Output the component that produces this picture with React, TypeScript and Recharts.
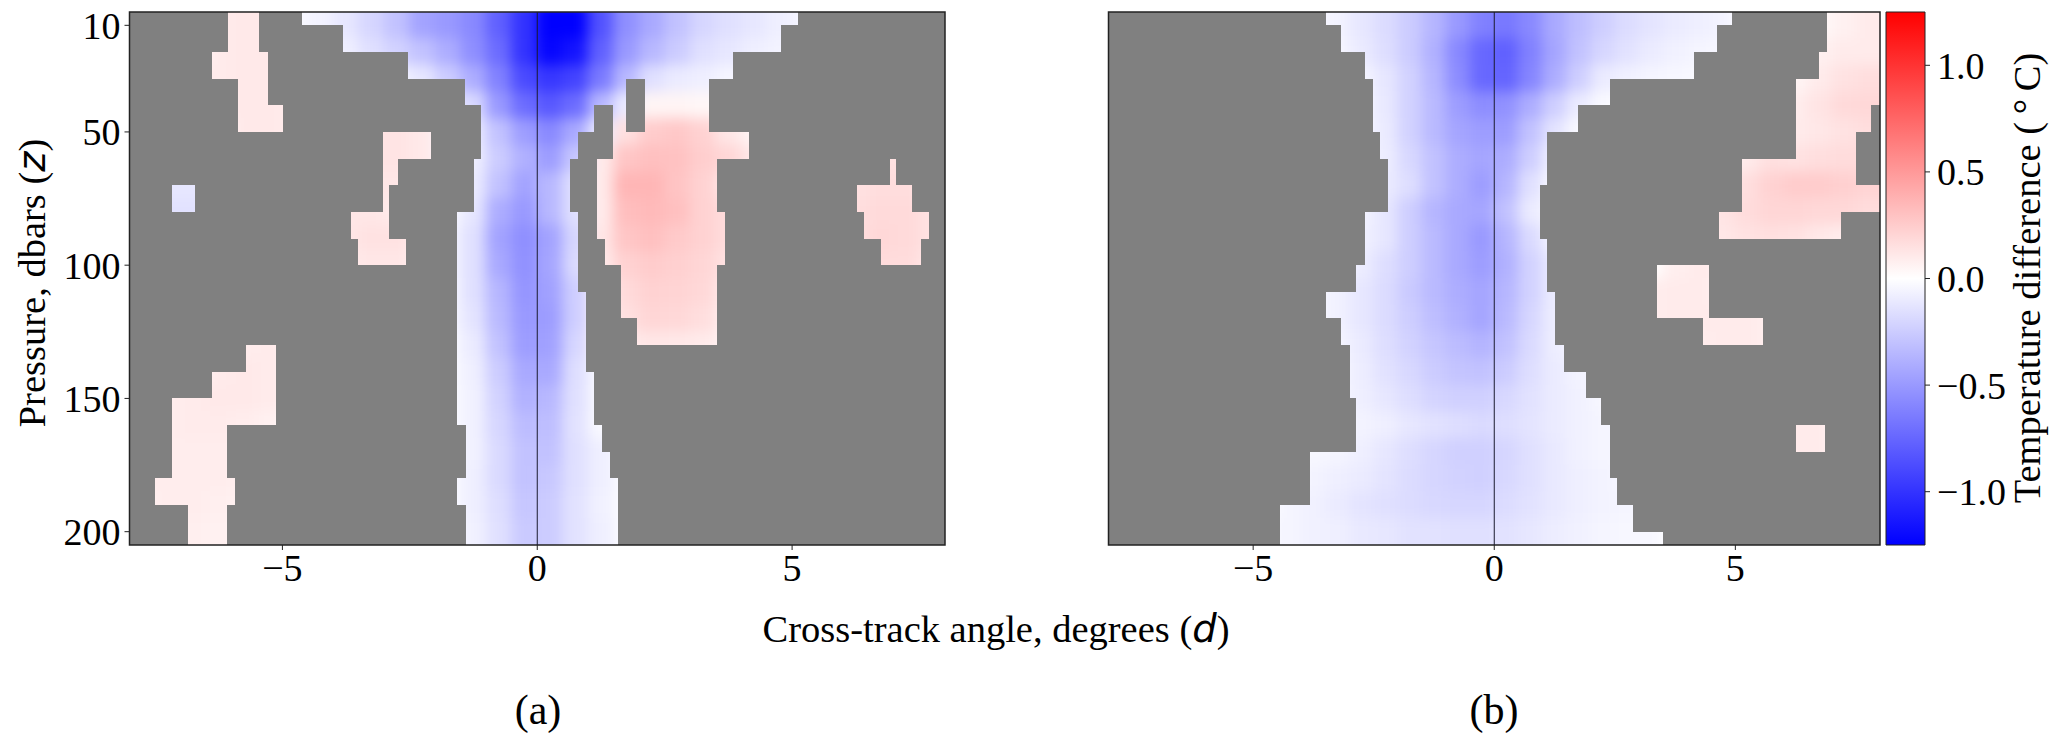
import React from 'react';
import { ScatterChart, Scatter, XAxis, YAxis, ReferenceArea, ReferenceLine } from 'recharts';

const W = 2067;
const H = 744;
const SERIF = '"Liberation Serif", serif';

// field grid: cell centres, values in 0.01 degC
const angles = [-7.75, -7.25, -6.75, -6.25, -5.75, -5.25, -4.75, -4.25, -3.75, -3.25, -2.75, -2.25, -1.75, -1.25, -0.75, -0.25, 0.25, 0.75, 1.25, 1.75, 2.25, 2.75, 3.25, 3.75, 4.25, 4.75, 5.25, 5.75, 6.25, 6.75, 7.25, 7.75];
const pressures = [10, 20, 30, 40, 50, 60, 70, 80, 90, 100, 110, 120, 130, 140, 150, 160, 170, 180, 190, 200];

const fieldA = [
  [0, 0, 0, 10, 11, 11, -3, -6, -12, -20, -30, -45, -50, -58, -78, -100, -125, -125, -85, -55, -42, -30, -20, -15, -12, -8, -5, 0, 0, 0, 0, 0],
  [0, 0, 0, 10, 11, 11, 0, -3, -8, -15, -22, -30, -40, -55, -72, -100, -122, -115, -78, -50, -35, -25, -15, -12, -8, -6, -4, 0, 0, 0, 0, 0],
  [0, 0, 9, 10, 11, 11, 0, 0, 0, -2, -5, -12, -25, -40, -62, -88, -98, -92, -65, -35, -15, -10, -8, -5, -3, 0, 0, 0, 0, 0, 0, 0],
  [0, 0, 0, 9, 11, 11, 9, 0, 0, 0, 0, -4, -10, -18, -50, -72, -82, -72, -35, -10, 5, 5, 4, 2, 0, 0, 0, 0, 0, 0, 0, 0],
  [0, 0, 0, 0, 11, 11, 9, 0, 11, 13, 13, 11, -3, -10, -30, -48, -58, -42, -10, 15, 25, 27, 22, 12, 5, 0, 0, 0, 0, 0, 0, 0],
  [0, 0, 0, 0, 0, 0, 0, 0, 10, 13, 13, 11, -3, -8, -25, -38, -48, -28, 10, 28, 31, 30, 24, 20, 12, 0, 0, 0, 12, 14, 14, 0],
  [-8, -12, -12, -8, 0, 0, 0, 0, 10, 12, 12, 8, -3, -10, -30, -45, -35, -15, 10, 36, 36, 29, 22, 12, 5, 0, 0, 10, 14, 16, 16, 12],
  [-8, -14, -14, -8, 0, 0, 0, 12, 12, 12, 10, 7, -3, -12, -40, -50, -35, -15, 10, 32, 34, 31, 22, 17, 10, 0, 0, 12, 16, 18, 18, 14],
  [0, 0, 0, 0, 0, 0, 0, 10, 12, 14, 14, 8, -4, -15, -45, -55, -45, -20, 12, 28, 31, 26, 22, 17, 10, 0, 0, 10, 16, 19, 18, 14],
  [0, 0, 0, 0, 0, 0, 0, 0, 10, 12, 12, 7, -4, -15, -42, -54, -44, -18, 10, 22, 25, 23, 20, 14, 6, 0, 0, 10, 15, 17, 17, 12],
  [0, 0, 0, 0, 0, 0, 0, 0, 0, 0, 0, 0, -3, -15, -36, -52, -46, -24, 5, 18, 22, 21, 19, 10, 0, 0, 0, 0, 0, 0, 0, 0],
  [0, 0, 0, 0, 0, 0, 0, 0, 0, 0, 0, 0, -3, -13, -34, -50, -48, -24, 5, 15, 20, 19, 16, 8, 0, 0, 0, 0, 0, 0, 0, 0],
  [0, 0, 0, 0, 9, 10, 7, 0, 0, 0, 0, 0, -2, -10, -30, -48, -46, -20, 5, 10, 12, 11, 10, 6, 0, 0, 0, 0, 0, 0, 0, 0],
  [0, 0, 0, 10, 11, 10, 7, 0, 0, 0, 0, 0, -2, -8, -25, -42, -42, -16, -3, 0, 0, 0, 0, 0, 0, 0, 0, 0, 0, 0, 0, 0],
  [0, 9, 10, 11, 11, 10, 7, 0, 0, 0, 0, 0, -2, -7, -22, -38, -35, -15, -3, 0, 0, 0, 0, 0, 0, 0, 0, 0, 0, 0, 0, 0],
  [0, 9, 10, 10, 9, 7, 0, 0, 0, 0, 0, 0, -2, -7, -20, -33, -32, -14, -3, 0, 0, 0, 0, 0, 0, 0, 0, 0, 0, 0, 0, 0],
  [0, 9, 9, 9, 8, 0, 0, 0, 0, 0, 0, 0, -2, -7, -18, -30, -30, -15, -8, -2, 0, 0, 0, 0, 0, 0, 0, 0, 0, 0, 0, 0],
  [9, 9, 9, 9, 8, 0, 0, 0, 0, 0, 0, 0, -2, -8, -18, -30, -27, -15, -8, -2, 0, 0, 0, 0, 0, 0, 0, 0, 0, 0, 0, 0],
  [7, 9, 9, 8, 7, 0, 0, 0, 0, 0, 0, 0, -2, -8, -16, -28, -25, -14, -7, -2, 0, 0, 0, 0, 0, 0, 0, 0, 0, 0, 0, 0],
  [0, 7, 8, 7, 6, 0, 0, 0, 0, 0, 0, 0, -2, -7, -15, -26, -25, -14, -8, -2, 0, 0, 0, 0, 0, 0, 0, 0, 0, 0, 0, 0],
];

const fieldB = [
  [0, 0, 0, 0, 0, 0, 0, 0, -3, -6, -12, -17, -25, -36, -50, -62, -66, -58, -42, -32, -24, -17, -13, -10, -8, -6, 0, 0, 0, 3, 7, 10],
  [0, 0, 0, 0, 0, 0, 0, 0, 0, -4, -10, -16, -25, -38, -58, -74, -78, -62, -44, -30, -20, -14, -10, -7, -5, -4, 0, 0, 0, 7, 10, 10],
  [0, 0, 0, 0, 0, 0, 0, 0, 0, 0, -5, -12, -22, -36, -56, -74, -76, -60, -40, -24, -10, -7, -5, -4, -3, 0, 0, 0, 5, 10, 14, 16],
  [0, 0, 0, 0, 0, 0, 0, 0, 0, 0, -4, -11, -22, -34, -48, -56, -54, -40, -24, -10, -3, 0, 0, 0, 0, 0, 0, 4, 9, 13, 18, 19],
  [0, 0, 0, 0, 0, 0, 0, 0, 0, 0, -4, -10, -22, -34, -44, -48, -48, -30, -13, -3, 0, 0, 0, 0, 0, 0, 0, 6, 10, 12, 14, 16],
  [0, 0, 0, 0, 0, 0, 0, 0, 0, 0, -4, -9, -19, -30, -40, -44, -40, -24, -7, 0, 0, 0, 0, 0, 0, 0, 10, 15, 14, 16, 17, 17],
  [0, 0, 0, 0, 0, 0, 0, 0, 0, 0, -4, -10, -16, -30, -40, -48, -36, -15, -3, 0, 0, 0, 0, 0, 0, 11, 16, 22, 25, 25, 23, 21],
  [0, 0, 0, 0, 0, 0, 0, 0, 0, 0, -6, -12, -24, -36, -42, -44, -30, -10, -3, 0, 0, 0, 0, 0, 9, 13, 17, 20, 20, 19, 19, 17],
  [0, 0, 0, 0, 0, 0, 0, 0, 0, 0, -7, -12, -24, -34, -42, -50, -36, -18, -5, 0, 0, 0, 0, 0, 10, 12, 14, 15, 14, 11, 9, 0],
  [0, 0, 0, 0, 0, 0, 0, 0, 0, -3, -9, -16, -24, -34, -42, -48, -38, -22, -10, 0, 0, 0, 0, 8, 10, 9, 0, 0, 0, 0, 0, 0],
  [0, 0, 0, 0, 0, 0, 0, 0, -3, -7, -12, -17, -26, -34, -40, -44, -36, -22, -10, 0, 0, 0, 9, 10, 10, 7, 0, 0, 0, 0, 0, 0],
  [0, 0, 0, 0, 0, 0, 0, 0, -3, -7, -12, -17, -24, -32, -38, -44, -34, -20, -9, 0, 0, 0, 9, 10, 10, 10, 10, 8, 0, 0, 0, 0],
  [0, 0, 0, 0, 0, 0, 0, 0, 0, -5, -10, -16, -22, -28, -33, -37, -30, -18, -9, -3, 0, 0, 0, 0, 9, 10, 10, 8, 0, 0, 0, 0],
  [0, 0, 0, 0, 0, 0, 0, 0, 0, -4, -9, -14, -19, -25, -29, -30, -25, -16, -10, -6, -3, 0, 0, 0, 0, 0, 0, 0, 0, 0, 0, 0],
  [0, 0, 0, 0, 0, 0, 0, 0, 0, -4, -8, -12, -16, -21, -23, -23, -19, -14, -10, -7, -4, 0, 0, 0, 0, 0, 0, 0, 0, 0, 0, 0],
  [0, 0, 0, 0, 0, 0, 0, 0, 0, -4, -6, -8, -12, -14, -16, -18, -16, -13, -10, -7, -5, -4, 0, 0, 0, 0, 0, 0, 10, 10, 0, 0],
  [0, 0, 0, 0, 0, 0, 0, 0, -4, -5, -8, -12, -16, -20, -23, -23, -20, -15, -11, -7, -5, -4, 0, 0, 0, 0, 0, 0, 10, 10, 0, 0],
  [0, 0, 0, 0, 0, 0, 0, 0, -6, -8, -10, -13, -17, -20, -22, -23, -19, -15, -11, -8, -6, -4, 0, 0, 0, 0, 0, 0, 0, 0, 0, 0],
  [0, 0, 0, 0, 0, 0, 0, -5, -7, -10, -13, -15, -17, -19, -20, -20, -17, -14, -11, -8, -6, -5, -3, 0, 0, 0, 0, 0, 0, 0, 0, 0],
  [0, 0, 0, 0, 0, 0, -4, -5, -7, -8, -11, -12, -14, -14, -15, -15, -14, -12, -9, -7, -5, -4, -4, 0, 0, 0, 0, 0, 0, 0, 0, 0],
];

// rows of the no-data mask, and for each row the x intervals that do hold data
const maskEdges = [5, 10, 20, 30, 40, 50, 60, 70, 80, 90, 100, 110, 120, 130, 140, 150, 160, 170, 180, 190, 200, 205];

const openA = [
  [[-6.06, -5.45], [-4.61, 5.11]],
  [[-6.06, -5.45], [-3.82, 4.79]],
  [[-6.38, -5.29], [-2.53, 3.84]],
  [[-5.88, -5.29], [-1.41, 1.75], [2.11, 3.36]],
  [[-5.88, -4.98], [-1.1, 1.12], [1.48, 1.75], [2.11, 3.36]],
  [[-3.02, -2.08], [-1.1, 0.795], [1.48, 4.16]],
  [[-3.02, -2.74], [-1.25, 0.634], [1.166, 3.525], [6.93, 7.04]],
  [[-7.17, -6.71], [-3.02, -2.9], [-1.25, 0.634], [1.166, 3.525], [6.27, 7.36]],
  [[-3.66, -2.9], [-1.57, 0.795], [1.166, 3.69], [6.42, 7.68]],
  [[-3.51, -2.57], [-1.57, 0.795], [1.32, 3.69], [6.75, 7.52]],
  [[-1.57, 0.795], [1.635, 3.525]],
  [[-1.57, 0.955], [1.635, 3.525]],
  [[-1.57, 0.955], [1.95, 3.525]],
  [[-5.72, -5.13], [-1.57, 0.955]],
  [[-6.38, -5.13], [-1.57, 1.11]],
  [[-7.17, -5.13], [-1.57, 1.11]],
  [[-7.17, -6.08], [-1.405, 1.27]],
  [[-7.17, -6.08], [-1.405, 1.43]],
  [[-7.5, -5.93], [-1.57, 1.586]],
  [[-6.85, -6.08], [-1.405, 1.586]],
  [[-6.85, -6.08], [-1.405, 1.586]],
];

const openB = [
  [[-3.48, 4.93], [6.9, 8]],
  [[-3.17, 4.62], [6.9, 8]],
  [[-2.69, 4.15], [6.73, 8]],
  [[-2.52, 2.4], [6.26, 8]],
  [[-2.52, 1.74], [6.26, 7.81]],
  [[-2.37, 1.1], [6.26, 7.5]],
  [[-2.21, 1.1], [5.14, 7.5]],
  [[-2.21, 0.95], [5.14, 8]],
  [[-2.69, 0.95], [4.67, 7.19]],
  [[-2.69, 1.1]],
  [[-2.86, 1.1], [3.375, 4.45]],
  [[-3.48, 1.26], [3.375, 4.45]],
  [[-3.17, 1.26], [4.33, 5.58]],
  [[-3.0, 1.44]],
  [[-3.0, 1.91]],
  [[-2.86, 2.22]],
  [[-2.86, 2.4], [6.25, 6.86]],
  [[-3.82, 2.4]],
  [[-3.82, 2.54]],
  [[-4.45, 2.88]],
  [[-4.45, 3.5]],
];

const xTicks = [-5, 0, 5];
const yTicks = [10, 50, 100, 150, 200];
const colorTicks = [-1, -0.5, 0, 0.5, 1];

const PLOT_TOP = 12;
const PLOT_BOTTOM = 545;
const PANEL_A = { left: 129.5, right: 945 };
const PANEL_B = { left: 1108.5, right: 1880 };

const toColor = (v: number) => {
  const t = Math.min(Math.abs(v) / 1.25, 1);
  const c = Math.round(255 * (1 - t));
  return v < 0 ? `rgb(${c},${c},255)` : `rgb(255,${c},${c})`;
};

const minusFmt = (v: number | string) => String(v).replace('-', '\u2212');

const margins = (p: { left: number; right: number }) => ({
  left: p.left - 70,
  right: W - p.right,
  top: PLOT_TOP,
  bottom: H - PLOT_BOTTOM - 60,
});

// blurred cells stand in for the smooth interpolation of the original image
const Field = ({ panel, values }: { panel: { left: number; right: number }; values: number[][] }) => {
  const cw = (panel.right - panel.left) / 32;
  const ch = (PLOT_BOTTOM - PLOT_TOP) / 20;
  const cells = pressures.flatMap((pressure, i) =>
    angles.map((angle, j) => ({ angle, pressure, value: values[i][j] / 100, row: i, col: j }))
  );
  const Cell = (props: any) => {
    const { cx, cy, payload } = props;
    const padT = payload.row === 0 ? 30 : 0;
    const padB = payload.row === 19 ? 30 : 0;
    const padL = payload.col === 0 ? 30 : 0;
    const padR = payload.col === 31 ? 30 : 0;
    return (
      <rect
        x={cx - cw / 2 - padL - 0.5}
        y={cy - ch / 2 - padT - 0.5}
        width={cw + padL + padR + 1}
        height={ch + padT + padB + 1}
        fill={toColor(payload.value)}
      />
    );
  };
  return (
    <div
      style={{
        position: 'absolute',
        left: 0,
        top: 0,
        width: W,
        height: H,
        clipPath: `inset(${PLOT_TOP}px ${W - panel.right}px ${H - PLOT_BOTTOM}px ${panel.left}px)`,
      }}
    >
      <div style={{ filter: 'blur(7px)' }}>
        <ScatterChart width={W} height={H} margin={margins(panel)}>
          <XAxis type="number" dataKey="angle" domain={[-8, 8]} height={60} tick={false} axisLine={false} tickLine={false} />
          <YAxis type="number" dataKey="pressure" domain={[5, 205]} reversed width={70} tick={false} axisLine={false} tickLine={false} />
          <Scatter data={cells} shape={Cell} isAnimationActive={false} />
        </ScatterChart>
      </div>
    </div>
  );
};

const Overlay = ({ panel, open, showY }: { panel: { left: number; right: number }; open: number[][][]; showY: boolean }) => {
  const gray: { x1: number; x2: number; y1: number; y2: number }[] = [];
  open.forEach((segs, i) => {
    let from = -8;
    [...segs, [8, 8]].forEach(([a, b]) => {
      if (a > from) gray.push({ x1: from, x2: a, y1: maskEdges[i], y2: maskEdges[i + 1] });
      from = b;
    });
  });
  const tickStyle = { fontFamily: SERIF, fontSize: 38, fill: '#000' };
  return (
    <div style={{ position: 'absolute', left: 0, top: 0 }}>
      <ScatterChart width={W} height={H} margin={margins(panel)}>
        <XAxis
          type="number"
          dataKey="angle"
          domain={[-8, 8]}
          ticks={xTicks}
          height={60}
          tick={tickStyle}
          tickFormatter={minusFmt}
          tickSize={5}
          tickMargin={4}
          stroke="#222"
          axisLine={false}
          allowDataOverflow
        />
        <YAxis
          type="number"
          dataKey="pressure"
          domain={[5, 205]}
          reversed
          ticks={showY ? yTicks : []}
          width={70}
          tick={showY ? tickStyle : false}
          tickLine={showY}
          tickSize={5}
          tickMargin={4}
          stroke="#222"
          axisLine={false}
          interval={0}
          allowDataOverflow
        />
        {gray.map((g, i) => (
          <ReferenceArea key={i} x1={g.x1} x2={g.x2} y1={g.y1} y2={g.y2} fill="#808080" fillOpacity={1} stroke="none" shapeRendering="crispEdges" />
        ))}
        <ReferenceLine x={0} stroke="#1a1a2e" strokeWidth={1} />
        <ReferenceArea x1={-8} x2={8} y1={5} y2={205} fill="none" stroke="#222" strokeWidth={1.5} />
      </ScatterChart>
    </div>
  );
};

const ColorBar = () => (
  <div style={{ position: 'absolute', left: 0, top: 0 }}>
    <ScatterChart width={W} height={H} margin={{ left: 1886, right: W - 1925 - 90, top: PLOT_TOP, bottom: H - PLOT_BOTTOM }}>
      <defs>
        <linearGradient id="bwr" x1="0" y1="0" x2="0" y2="1">
          <stop offset="0%" stopColor="#ff0000" />
          <stop offset="50%" stopColor="#ffffff" />
          <stop offset="100%" stopColor="#0000ff" />
        </linearGradient>
      </defs>
      <XAxis type="number" dataKey="x" domain={[0, 1]} height={0} tick={false} axisLine={false} tickLine={false} allowDataOverflow />
      <YAxis
        type="number"
        dataKey="y"
        domain={[-1.25, 1.25]}
        orientation="right"
        ticks={colorTicks}
        width={90}
        interval={0}
        tick={{ fontFamily: SERIF, fontSize: 38, fill: '#000' }}
        tickFormatter={(v: number) => minusFmt(v.toFixed(1))}
        tickSize={5}
        tickMargin={7}
        stroke="#222"
        axisLine={false}
        allowDataOverflow
      />
      <ReferenceArea x1={0} x2={1} y1={-1.25} y2={1.25} fill="url(#bwr)" fillOpacity={1} stroke="#222" strokeWidth={1} />
    </ScatterChart>
  </div>
);

const Titles = () => (
  <svg width={W} height={H} style={{ position: 'absolute', left: 0, top: 0, fontFamily: SERIF, fontSize: 38.5 }}>
    <text x={996} y={642} textAnchor="middle">
      Cross-track angle, degrees (<tspan fontFamily='"DejaVu Sans"' fontStyle="italic">d</tspan>)
    </text>
    <text transform="translate(45,283) rotate(-90)" textAnchor="middle">
      Pressure, dbars (<tspan fontFamily='"DejaVu Sans"' fontStyle="italic">z</tspan>)
    </text>
    <text transform="translate(2040,278) rotate(-90)" textAnchor="middle">
      Temperature difference ({'\u2009'}°{'\u2009'}C)
    </text>
    <text x={538} y={724} textAnchor="middle" fontSize={42}>(a)</text>
    <text x={1494} y={724} textAnchor="middle" fontSize={42}>(b)</text>
  </svg>
);

export default function App() {
  return (
    <div style={{ position: 'absolute', left: 0, top: 0, width: W, height: H, background: '#fff', overflow: 'hidden' }}>
      <Field panel={PANEL_A} values={fieldA} />
      <Field panel={PANEL_B} values={fieldB} />
      <Overlay panel={PANEL_A} open={openA} showY />
      <Overlay panel={PANEL_B} open={openB} showY={false} />
      <ColorBar />
      <Titles />
    </div>
  );
}
